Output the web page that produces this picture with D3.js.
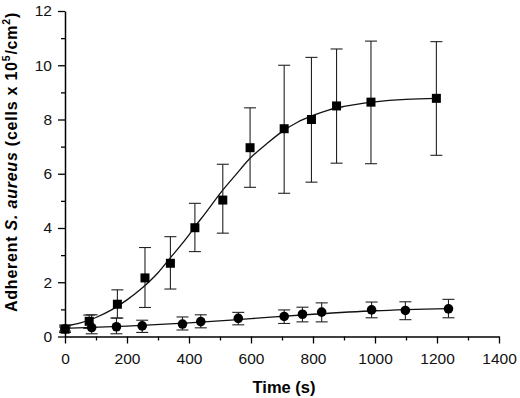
<!DOCTYPE html>
<html lang="en">
<head>
<meta charset="UTF-8">
<title>Adherent S. aureus over time</title>
<script src="https://d3js.org/d3.v7.min.js"></script>
<style>
  body { margin: 0; background: #fff; font-family: Arial, "Liberation Sans", sans-serif; }
  .tick text { font-family: Arial, "Liberation Sans", sans-serif; }
</style>
</head>
<body>
<svg id="chart" width="520" height="398"></svg>
<script>
// square series (time s, mean, lower, upper)
const sqTime  = [0, 78, 169, 258, 340, 419, 509, 597, 707, 795, 876, 987, 1198];
const sqMean  = [0.27, 0.56, 1.19, 2.16, 2.7, 4.01, 5.03, 6.96, 7.66, 8.0, 8.5, 8.64, 8.78];
const sqLow   = [0.2, 0.3, 0.68, 1.07, 1.75, 3.13, 3.81, 5.5, 5.28, 5.69, 6.39, 6.37, 6.68];
const sqHigh  = [0.35, 0.79, 1.72, 3.28, 3.68, 4.91, 6.35, 8.43, 10.0, 10.29, 10.6, 10.89, 10.87];

// circle series
const ciTime  = [0, 86, 166, 249, 379, 438, 559, 707, 766, 828, 989, 1098, 1237];
const ciMean  = [0.28, 0.33, 0.36, 0.39, 0.46, 0.55, 0.67, 0.74, 0.82, 0.9, 0.98, 0.96, 1.02];
const ciLow   = [0.15, 0.1, 0.1, 0.15, 0.24, 0.32, 0.43, 0.48, 0.54, 0.54, 0.69, 0.62, 0.69];
const ciHigh  = [0.42, 0.8, 0.68, 0.6, 0.72, 0.8, 0.89, 0.98, 1.08, 1.24, 1.27, 1.28, 1.37];

// fitted curves
const fitSqTime = [0, 50, 100, 150, 200, 242, 300, 339, 400, 419, 450, 505, 550, 597, 650, 706, 750, 800, 850, 900, 950, 1000, 1100, 1200];
const fitSqVal  = [0.38, 0.5, 0.7, 0.98, 1.35, 1.72, 2.35, 2.89, 3.75, 4.05, 4.5, 5.34, 5.95, 6.57, 7.1, 7.6, 7.9, 8.15, 8.35, 8.48, 8.58, 8.65, 8.74, 8.78];
const fitCiTime = [0, 200, 400, 600, 800, 1000, 1237];
const fitCiVal  = [0.3, 0.38, 0.5, 0.66, 0.82, 0.95, 1.03];

const xTicks = [0, 200, 400, 600, 800, 1000, 1200, 1400];
const yTicks = [0, 2, 4, 6, 8, 10, 12];

const svg = d3.select("#chart");
const x = d3.scaleLinear().domain([0, 1400]).range([65, 499]);
const y = d3.scaleLinear().domain([0, 12]).range([336.5, 11]);

// minor ticks
svg.append("g")
  .attr("transform", "translate(0,336.5)")
  .call(d3.axisBottom(x).tickValues(d3.range(100, 1400, 200)).tickSize(4).tickFormat(""))
  .call(g => g.select(".domain").remove())
  .selectAll("line").attr("stroke", "#000").attr("stroke-width", 1.3);
svg.append("g")
  .attr("transform", "translate(65,0)")
  .call(d3.axisLeft(y).tickValues(d3.range(1, 12, 2)).tickSize(4).tickFormat(""))
  .call(g => g.select(".domain").remove())
  .selectAll("line").attr("stroke", "#000").attr("stroke-width", 1.3);

// major axes
const xAxis = svg.append("g")
  .attr("transform", "translate(0,336.5)")
  .call(d3.axisBottom(x).tickValues(xTicks).tickSize(7).tickSizeOuter(0).tickPadding(9).tickFormat(d3.format("d")));
const yAxis = svg.append("g")
  .attr("transform", "translate(65,0)")
  .call(d3.axisLeft(y).tickValues(yTicks).tickSize(7).tickSizeOuter(0).tickPadding(6).tickFormat(d3.format("d")));
[xAxis, yAxis].forEach(a => {
  a.select(".domain").attr("stroke", "#000").attr("stroke-width", 1.5);
  a.selectAll(".tick line").attr("stroke", "#000").attr("stroke-width", 1.3);
  a.selectAll(".tick text").attr("font-size", 15.5).attr("fill", "#111");
});

// fit lines
const line = d3.line().x(d => x(d[0])).y(d => y(d[1])).curve(d3.curveMonotoneX);
svg.append("path")
  .attr("d", line(d3.zip(fitSqTime, fitSqVal)))
  .attr("fill", "none").attr("stroke", "#111").attr("stroke-width", 1.3);
svg.append("path")
  .attr("d", line(d3.zip(fitCiTime, fitCiVal)))
  .attr("fill", "none").attr("stroke", "#111").attr("stroke-width", 1.3);

// error bars
function errorBars(times, low, high) {
  const g = svg.append("g").attr("stroke", "#222").attr("stroke-width", 1.1);
  times.forEach((t, i) => {
    const cx = x(t);
    g.append("line").attr("x1", cx).attr("x2", cx).attr("y1", y(low[i])).attr("y2", y(high[i]));
    g.append("line").attr("x1", cx - 6).attr("x2", cx + 6).attr("y1", y(low[i])).attr("y2", y(low[i]));
    g.append("line").attr("x1", cx - 6).attr("x2", cx + 6).attr("y1", y(high[i])).attr("y2", y(high[i]));
  });
}
errorBars(ciTime, ciLow, ciHigh);
errorBars(sqTime, sqLow, sqHigh);

// markers
svg.append("g").selectAll("circle")
  .data(d3.zip(ciTime, ciMean))
  .join("circle")
  .attr("cx", d => x(d[0])).attr("cy", d => y(d[1])).attr("r", 4.8)
  .attr("fill", "#000");
svg.append("g").selectAll("rect")
  .data(d3.zip(sqTime, sqMean))
  .join("rect")
  .attr("x", d => x(d[0]) - 4.5).attr("y", d => y(d[1]) - 4.5)
  .attr("width", 9).attr("height", 9)
  .attr("fill", "#000");

// axis titles
svg.append("text")
  .attr("x", 284).attr("y", 393)
  .attr("text-anchor", "middle")
  .attr("font-size", 16.5).attr("font-weight", "bold")
  .text("Time (s)");

const yl = svg.append("text")
  .attr("transform", "translate(16.5,162) rotate(-90)")
  .attr("text-anchor", "middle")
  .attr("font-size", 16).attr("font-weight", "bold");
yl.append("tspan").text("Adherent ");
yl.append("tspan").attr("font-style", "italic").text("S. aureus");
yl.append("tspan").text(" (cells x 10");
yl.append("tspan").attr("font-size", 10.5).attr("dy", -7).text("5");
yl.append("tspan").attr("dy", 7).text("/cm");
yl.append("tspan").attr("font-size", 10.5).attr("dy", -7).text("2");
yl.append("tspan").attr("dy", 7).text(")");
// the reference label is set a little wider: spread letters to its length (~300px)
const len = yl.node().getComputedTextLength();
const nChars = yl.text().length;
yl.attr("letter-spacing", Math.max(0, (300 - len) / nChars));
</script>
</body>
</html>
